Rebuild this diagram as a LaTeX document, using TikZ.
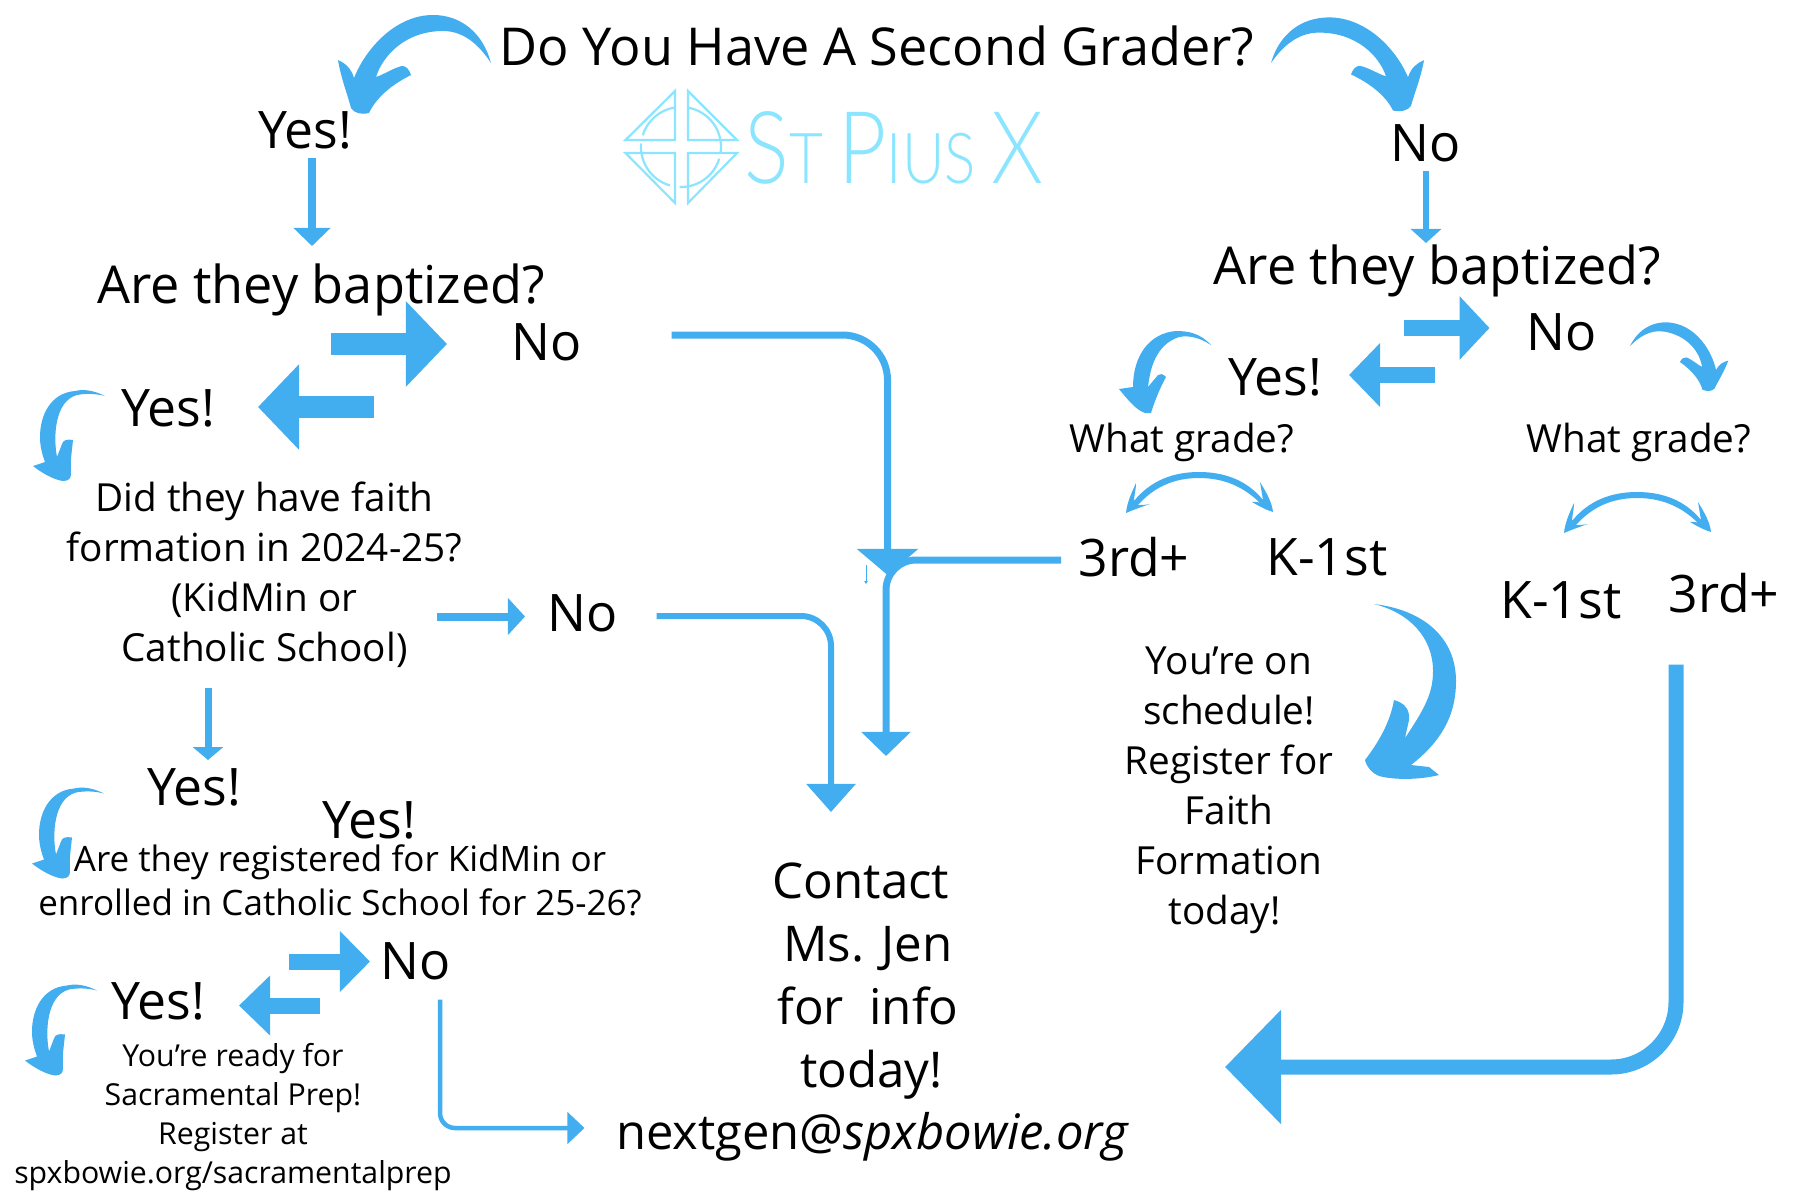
\documentclass[tikz,border=0pt]{standalone}
\usepackage{fontspec}
\setmainfont{Open Sans}
\newfontfamily\logofont{Lato Light}
\usetikzlibrary{arrows.meta}
\definecolor{arrowblue}{HTML}{42ADEF}
\definecolor{logoblue}{HTML}{8BE5FF}
\tikzset{
    bigtxt/.style={inner sep=0, font=\fontsize{14.7}{17}\selectfont},
    titletxt/.style={inner sep=0, font=\fontsize{14.85}{17}\selectfont},
    midtxt/.style={inner sep=0, align=center, font=\fontsize{11}{14.2}\selectfont},
    regtxt/.style={inner sep=0, align=center, font=\fontsize{9.95}{12.5}\selectfont},
    smalltxt/.style={inner sep=0, align=center, font=\fontsize{8.6}{11.1}\selectfont},
    flow/.style n args={3}{draw=arrowblue, line width=#1, -{Triangle[length=#2,width=#3]}},
    pics/swoop/.style={code={
        \fill[arrowblue] (0,0) .. controls (-8,-30) and (-30,-48) .. (-58,-48) .. controls (-95,-48) and (-125,-15) .. (-137,15) .. controls (-140,5) and (-146,0) .. (-153,-3) .. controls (-150,15) and (-144,30) .. (-140,45) .. controls (-137,50) and (-130,52) .. (-122,50) .. controls (-115,35) and (-100,22) .. (-80,12) .. controls (-82,6) and (-85,3) .. (-89,3) .. controls (-98,5) and (-108,12) .. (-115,14) .. controls (-108,-8) and (-85,-32) .. (-48,-32) .. controls (-25,-32) and (-10,-15) .. (0,0) -- cycle;
    }},
    pics/hook/.style={code={
        \fill[arrowblue] (0,0) .. controls (-12,-6) and (-22,-7) .. (-30,-5) .. controls (-55,-3) and (-65,20) .. (-65,41) .. controls (-65,50) and (-63,58) .. (-60,66) -- (-72,70) .. controls (-62,78) and (-50,84) .. (-42,85) .. controls (-36,85) and (-34,82) .. (-34,78) .. controls (-35,65) and (-33,55) .. (-32,44) .. controls (-38,43) and (-42,44) .. (-43,48) -- (-48,61) .. controls (-52,40) and (-50,5) .. (-28,-1) .. controls (-18,-3) and (-8,-2) .. (0,0) -- cycle;
    }},
    pics/arch/.style={code={
        \fill[arrowblue] (-73,41) .. controls (-72,30) and (-67,20) .. (-63,11) .. controls (-63,18) and (-65,24) .. (-65,29) .. controls (-48,8) and (-25,0) .. (0,0) .. controls (25,0) and (48,8) .. (64,28) .. controls (63,22) and (62,16) .. (61,10) .. controls (67,20) and (73,30) .. (74,40) .. controls (67,38) and (60,34) .. (53,30) .. controls (56,29) and (59,30) .. (61,31) .. controls (45,15) and (25,6) .. (0,6) .. controls (-25,6) and (-45,15) .. (-61,33) .. controls (-58,33) and (-53,33) .. (-49,32) .. controls (-58,35) and (-66,38) .. (-73,41) -- cycle;
    }},
}
\begin{document}
\begin{tikzpicture}[x=0.01cm, y=-0.01cm]
    \useasboundingbox (0,0) rectangle (1800,1200);
    % texts
    \node[titletxt] (start) at (877,46) {Do You Have A Second Grader?};
    \node[bigtxt] (yesA) at (305,130) {Yes!};
    \node[bigtxt] (noA) at (1426,143) {No};
    \node[titletxt] (baptL) at (321,290) {Are they baptized?};
    \node[titletxt] (baptR) at (1437.5,271) {Are they baptized?};
    \node[bigtxt] (noL) at (547,342) {No};
    \node[bigtxt] (yesL) at (168,408) {Yes!};
    \node[midtxt] (faith) at (264.5,575) {Did they have faith\\formation in 2024-25?\\(KidMin or\\Catholic School)};
    \node[bigtxt] (noF) at (583,613) {No};
    \node[bigtxt] (yesF) at (194,787) {Yes!};
    \node[bigtxt] (yesG) at (369,820) {Yes!};
    \node[regtxt] (enrol) at (340,880) {Are they registered for KidMin or\\enrolled in Catholic School for 25-26?};
    \node[bigtxt] (noE) at (416,961) {No};
    \node[bigtxt] (yesE) at (158,1001) {Yes!};
    \node[smalltxt] (ready) at (233,1117) {You're ready for\\Sacramental Prep!\\Register at\\spxbowie.org/sacramentalprep};
    \node[inner sep=0, align=center, font=\fontsize{14}{17.9}\selectfont] (contact) at (868,981) {Contact\hspace*{4pt}\\Ms. Jen\\for~~info\\\hspace*{2pt}today!};
    \node[inner sep=0, font=\fontsize{13.9}{17}\selectfont] (mail) at (873,1137) {nextgen@\textit{spxbowie.org}};
    \node[bigtxt] (yesR) at (1275,377) {Yes!};
    \node[bigtxt] (noR) at (1562,332) {No};
    \node[midtxt] (gradeL) at (1182,442.5) {What grade?};
    \node[midtxt] (gradeR) at (1639,442.5) {What grade?};
    \node[bigtxt] (thirdL) at (1134,557.5) {3rd+};
    \node[bigtxt] (kL) at (1327,557.5) {K-1st};
    \node[bigtxt] (kR) at (1561,600.5) {K-1st};
    \node[bigtxt] (thirdR) at (1724,593.5) {3rd+};
    \node[midtxt] (sched) at (1229,790) {You're on\\schedule!\\Register for\\Faith\\Formation\\today!\hspace*{2.5pt}};
    % logo
    \node[inner sep=0, text=logoblue, font=\logofont] (logotxt) at (894,148) {\scalebox{.83}[1]{\fontsize{28.6}{28.6}\selectfont S\fontsize{20}{20}\selectfont T \fontsize{28.6}{28.6}\selectfont P\fontsize{20}{20}\selectfont IUS \fontsize{28.6}{28.6}\selectfont X}};
    \coordinate (cross) at (681,147);
    \draw[logoblue, line width=2.2*0.01cm, line join=miter]
        (675,91)--(625.5,140)--(675,140)--cycle
        (688,91)--(737,140)--(688,140)--cycle
        (625.5,153)--(675,203)--(675,153)--cycle
        (737,153)--(688,203)--(688,153)--cycle;
    \draw[logoblue, line width=2.2*0.01cm] (cross)++(197:40) arc[start angle=197,end angle=261,radius=40];
    \draw[logoblue, line width=2.2*0.01cm] (cross)++(280:40) arc[start angle=280,end angle=368,radius=40];
    \draw[logoblue, line width=2.2*0.01cm] (cross)++(17:40) arc[start angle=17,end angle=92,radius=40];
    \draw[logoblue, line width=2.2*0.01cm] (cross)++(185:40) arc[start angle=185,end angle=106,radius=40];
    % straight arrows
    \coordinate (a1) at (312,158);   \coordinate (b1) at (312,246);
    \coordinate (a2) at (1426,171);  \coordinate (b2) at (1426,243);
    \coordinate (a3) at (331,344);   \coordinate (b3) at (447,344);
    \coordinate (a4) at (374,407);   \coordinate (b4) at (258,407);
    \coordinate (a5) at (437,616.5); \coordinate (b5) at (525,616.5);
    \coordinate (a6) at (208,688);   \coordinate (b6) at (208,760);
    \coordinate (a7) at (289,961.5); \coordinate (b7) at (370,961.5);
    \coordinate (a8) at (320,1005.5); \coordinate (b8) at (239,1005.5);
    \coordinate (a9) at (1403.5,328); \coordinate (b9) at (1489.5,328);
    \coordinate (a10) at (1435,375); \coordinate (b10) at (1349,375);
    \draw[flow={.08cm}{.18cm}{.36cm}] (a1)--(b1);
    \draw[flow={.06cm}{.14cm}{.3cm}] (a2)--(b2);
    \draw[flow={.21cm}{.41cm}{.83cm}] (a3)--(b3);
    \draw[flow={.21cm}{.41cm}{.83cm}] (a4)--(b4);
    \draw[flow={.08cm}{.17cm}{.36cm}] (a5)--(b5);
    \draw[flow={.07cm}{.13cm}{.3cm}] (a6)--(b6);
    \draw[flow={.16cm}{.3cm}{.59cm}] (a7)--(b7);
    \draw[flow={.16cm}{.31cm}{.58cm}] (a8)--(b8);
    \draw[flow={.16cm}{.3cm}{.62cm}] (a9)--(b9);
    \draw[flow={.16cm}{.31cm}{.62cm}] (a10)--(b10);
    % routed arrows
    \coordinate (c1) at (671.5,335); \coordinate (c1e) at (887.5,575);
    \coordinate (c2) at (1061,560); \coordinate (c2e) at (886,756);
    \coordinate (c3) at (656.5,616); \coordinate (c3e) at (831,812);
    \coordinate (c4) at (440,999.5); \coordinate (c4e) at (584.5,1128);
    \coordinate (c5) at (1676,664.5); \coordinate (c5e) at (1225,1067);
    \draw[flow={.07cm}{.26cm}{.6cm}, rounded corners=.45cm] (c1) -| (c1e);
    \draw[flow={.07cm}{.24cm}{.48cm}, rounded corners=.3cm] (c2) -| (c2e);
    \draw[flow={.06cm}{.28cm}{.48cm}, rounded corners=.3cm] (c3) -| (c3e);
    \draw[flow={.045cm}{.17cm}{.31cm}, rounded corners=.15cm] (c4) |- (c4e);
    \draw[flow={.15cm}{.56cm}{1.11cm}, rounded corners=.65cm] (c5) |- (c5e);
    \coordinate (tinyA) at (866,565); \coordinate (tinyB) at (866,584);
    \draw[arrowblue, line width=.008cm, -{Triangle[length=.03cm,width=.035cm]}] (tinyA)--(tinyB);
    % curved arrows
    \pic at (491,63) {swoop};
    \pic[xscale=-1, yscale=.95] at (1271,63) {swoop};
    \pic[xscale=-.65, yscale=.62, rotate=10] at (1630,346) {swoop};
    \pic at (105,396) {hook};
    \pic at (104,793.5) {hook};
    \pic at (97,990.5) {hook};
    \pic at (1199,472) {arch};
    \pic at (1637,492) {arch};
    \fill[arrowblue] (1211,345) .. controls (1200,333) and (1188,331) .. (1176,331) .. controls (1150,333) and (1133,355) .. (1133,387) -- (1119,389) .. controls (1128,400) and (1136,410) .. (1145,413) -- (1151,413) .. controls (1155,400) and (1160,388) .. (1166,377) .. controls (1163,374) and (1160,373) .. (1158,375) -- (1148,387) .. controls (1150,370) and (1155,345) .. (1179,337) .. controls (1190,335) and (1200,338) .. (1211,345) -- cycle;
    \fill[arrowblue, shift={(-6,-2)}] (1380,606) .. controls (1430,612) and (1462,640) .. (1462,683) .. controls (1462,720) and (1445,745) .. (1417,767) -- (1435,769) -- (1445,777) .. controls (1425,782) and (1400,782) .. (1385,778) .. controls (1378,775) and (1373,770) .. (1371,762) .. controls (1384,745) and (1396,725) .. (1400,702) .. controls (1411,705) and (1416,712) .. (1415,722) -- (1411,740) .. controls (1431,710) and (1439,695) .. (1439,673) .. controls (1439,640) and (1416,615) .. (1380,606) -- cycle;
\end{tikzpicture}
\end{document}
